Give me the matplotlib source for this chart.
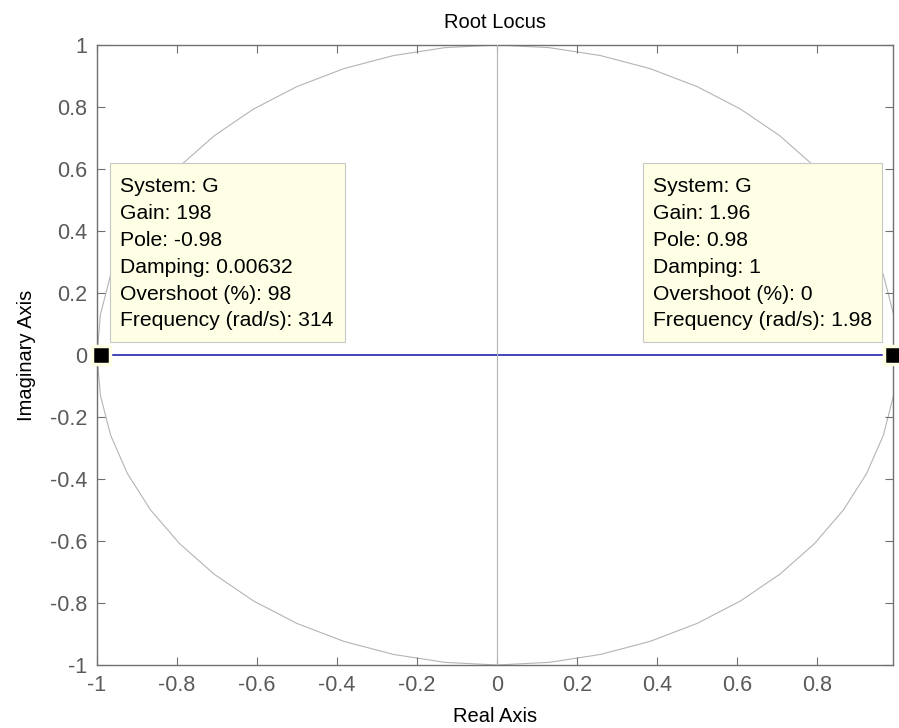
import numpy as np
import matplotlib
matplotlib.use("Agg")
import matplotlib.pyplot as plt
from matplotlib.patches import Rectangle
from matplotlib.ticker import FormatStrFormatter

plt.rcParams["font.family"] = ["Liberation Sans", "DejaVu Sans"]

# root locus branches on the real axis (z-plane)
branch_left_x = [-0.99, 0.0]
branch_right_x = [0.0, 0.99]
branch_y = [0.0, 0.0]

# selected data tips (marker positions and their readouts)
tip_x = [-0.99, 0.99]
tip_left_lines = ["System: G", "Gain: 198", "Pole: -0.98", "Damping: 0.00632",
                  "Overshoot (%): 98", "Frequency (rad/s): 314"]
tip_right_lines = ["System: G", "Gain: 1.96", "Pole: 0.98", "Damping: 1",
                   "Overshoot (%): 0", "Frequency (rad/s): 1.98"]

xticks = [-1, -0.8, -0.6, -0.4, -0.2, 0, 0.2, 0.4, 0.6, 0.8]
yticks = [-1, -0.8, -0.6, -0.4, -0.2, 0, 0.2, 0.4, 0.6, 0.8, 1]

GRID = "#b4b4b4"
AXC = "#707070"
TIPBG = "#ffffe6"
FS = 14.5
FS_TICK = 15.5
FS_TIP = 15.2

fig = plt.figure(figsize=(8.99, 7.28), dpi=100)
ax = fig.add_axes([97 / 899, 63 / 728, 796 / 899, 620 / 728])

# unit circle (stability boundary) + imaginary axis
theta = np.linspace(0, 2 * np.pi, 49)
ax.plot(np.cos(theta), np.sin(theta), color=GRID, lw=0.8, zorder=1)
ax.plot([0, 0], [-1, 1], color=GRID, lw=0.8, zorder=3)

ax.plot(branch_left_x, branch_y, color="#3636b4", lw=1.3, zorder=2)
ax.plot(branch_right_x, branch_y, color="#3636b4", lw=1.3, zorder=2)

ax.plot(tip_x, [0, 0], ls="none", marker="s", ms=13.5, mfc="black",
        mec=TIPBG, mew=2.5, clip_on=False, zorder=5)

# data tip boxes
step = 26.8 / 310
for x0, x1, xt, lines in [(-0.9675, -0.38, -0.9425, tip_left_lines),
                          (0.365, 0.9625, 0.39, tip_right_lines)]:
    ax.add_patch(Rectangle((x0, 0.042), x1 - x0, 0.577, facecolor=TIPBG,
                           edgecolor="#c8c8c8", lw=0.8, zorder=4))
    for i, s in enumerate(lines):
        ax.text(xt, 0.542 - i * step, s, fontsize=FS_TIP, color="black",
                va="center", ha="left", zorder=6)

ax.set_xlim(-1, 0.99)
ax.set_ylim(-1, 1)
ax.set_xticks(xticks)
ax.set_yticks(yticks)
ax.xaxis.set_major_formatter(FormatStrFormatter("%g"))
ax.yaxis.set_major_formatter(FormatStrFormatter("%g"))
ax.tick_params(direction="in", length=6, width=0.8, color=AXC, labelcolor="#5a5a5a",
               labelsize=FS_TICK, top=True, right=True, pad=7)
for sp in ax.spines.values():
    sp.set_color(AXC)
    sp.set_linewidth(1.0)

ax.set_title("Root Locus", fontsize=FS, color="black", pad=12)
ax.set_xlabel("Real Axis", fontsize=FS, color="black", labelpad=8)
ax.set_ylabel("Imaginary Axis", fontsize=FS, color="black", labelpad=10)

fig.savefig("out.png", dpi=100)
